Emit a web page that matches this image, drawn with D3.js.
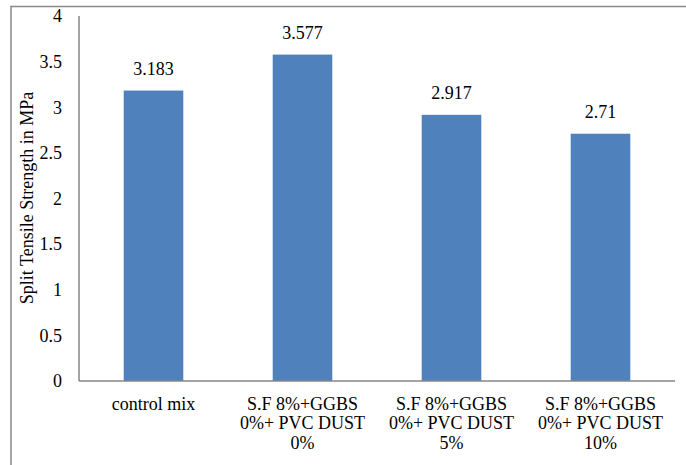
<!DOCTYPE html>
<html><head><meta charset="utf-8">
<script src="https://cdn.jsdelivr.net/npm/d3@7"></script>
<style>html,body{margin:0;padding:0;background:#fff;}svg{display:block;}
svg text{font-family:"Liberation Serif","Times New Roman",Times,serif;font-size:18px;fill:#000;}</style>
</head><body>
<script>
const categories = [
  ["control mix"],
  ["S.F 8%+GGBS", "0%+ PVC DUST", "0%"],
  ["S.F 8%+GGBS", "0%+ PVC DUST", "5%"],
  ["S.F 8%+GGBS", "0%+ PVC DUST", "10%"]
];
const values = [3.183, 3.577, 2.917, 2.71];
const labels = ["3.183", "3.577", "2.917", "2.71"];
const yTicks = [0, 0.5, 1, 1.5, 2, 2.5, 3, 3.5, 4];
const yTitle = "Split Tensile Strength in MPa";

const W = 686, H = 465;
const svg = d3.select("body").append("svg").attr("width", W).attr("height", H);

// outer border
svg.append("path").attr("d", `M11,${H} V6.5 H${W}`).attr("fill","none").attr("stroke","#898989").attr("stroke-width",1.5);

const x = d3.scaleBand().domain(d3.range(categories.length)).range([79, 675]).paddingInner(0.6).paddingOuter(0.3);
const y = d3.scaleLinear().domain([0, 4]).range([381, 16]);

svg.selectAll("rect.bar").data(values).enter().append("rect")
  .attr("x", (d,i)=>x(i)).attr("width", x.bandwidth())
  .attr("y", d=>y(d)).attr("height", d=>y(0)-y(d)).attr("fill", "#4F81BD");

// axes lines
svg.append("line").attr("x1",79).attr("x2",79).attr("y1",y(4)).attr("y2",y(0)).attr("stroke","#868686").attr("stroke-width",1.5);
svg.append("line").attr("x1",79).attr("x2",675).attr("y1",y(0)).attr("y2",y(0)).attr("stroke","#868686").attr("stroke-width",1.5);

// y tick labels
svg.selectAll("text.yt").data(yTicks).enter().append("text")
  .attr("x", 62).attr("y", d=>y(d)).attr("dy","0.35em").attr("text-anchor","end").text(d=>d);

// data labels
svg.selectAll("text.dl").data(values).enter().append("text")
  .attr("x",(d,i)=>x(i)+x.bandwidth()/2).attr("y", d=>y(d)-16).attr("text-anchor","middle")
  .text((d,i)=>labels[i]);

// x labels
categories.forEach((lines,i)=>{
  const t = svg.append("text").attr("text-anchor","middle");
  lines.forEach((l,j)=>{
    t.append("tspan").attr("x", x(i)+x.bandwidth()/2).attr("y", 410 + j*19.3).text(l);
  });
});

// y title
svg.append("text").attr("transform","translate(33,198) rotate(-90)").attr("text-anchor","middle").text(yTitle);
</script>
</body></html>
